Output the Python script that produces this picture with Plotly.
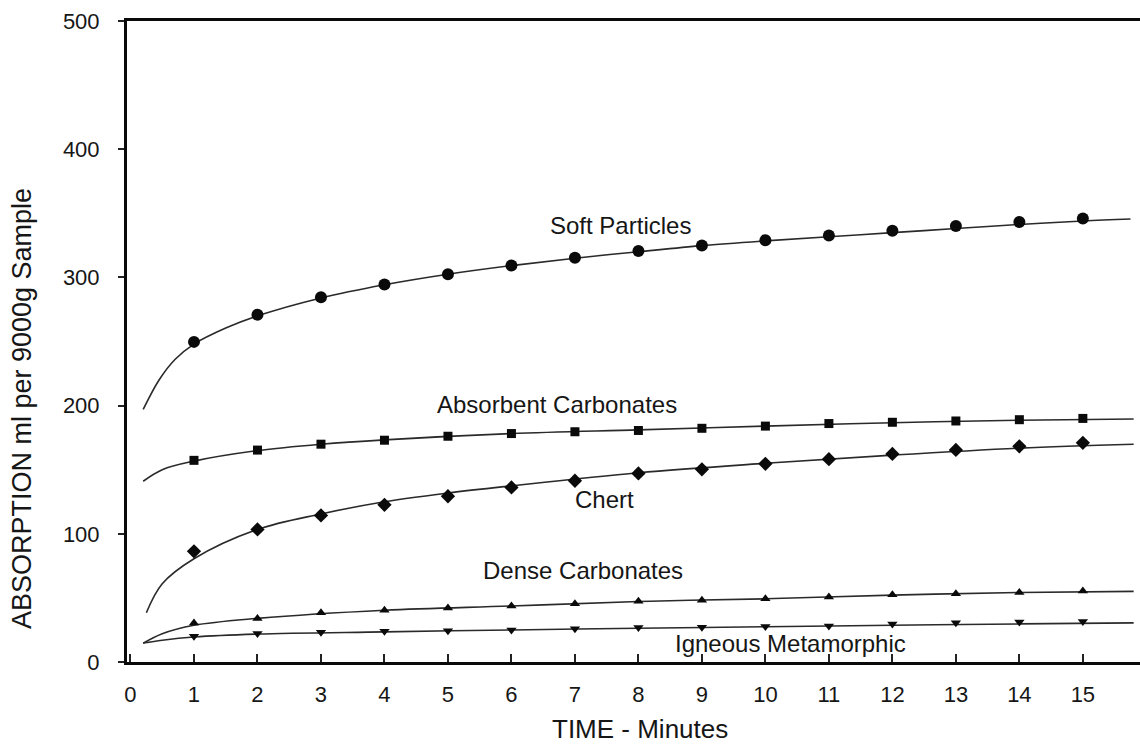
import plotly.graph_objects as go

# ---- data ----
minutes = [1, 2, 3, 4, 5, 6, 7, 8, 9, 10, 11, 12, 13, 14, 15]

soft_pts = [249.7, 270.9, 284.6, 294.4, 302.5, 309.2, 315.4, 320.6, 324.9, 329.0, 332.7, 336.4, 340.1, 343.2, 346.0]
absorb_pts = [157.3, 165.3, 169.9, 173.0, 176.1, 178.2, 179.6, 180.6, 182.3, 184.0, 186.0, 187.0, 188.0, 189.0, 190.0]
chert_pts = [86.3, 103.4, 114.3, 122.6, 129.3, 136.2, 141.4, 147.1, 150.3, 154.6, 158.2, 162.3, 165.4, 168.2, 171.0]
dense_pts = [30.4, 34.0, 38.4, 40.4, 42.2, 43.7, 45.5, 47.3, 48.2, 49.3, 50.7, 52.4, 53.3, 54.3, 55.3]
igneous_pts = [20.0, 22.3, 23.3, 24.0, 24.3, 25.0, 26.0, 27.0, 27.2, 27.7, 28.1, 29.7, 30.7, 31.2, 31.6]

# fitted curves
soft_curve_t = [0.2, 0.45, 0.7, 1, 1.5, 2, 3, 4, 5, 6, 7, 8, 9, 10, 11, 12, 13, 14, 15, 15.75]
soft_curve = [197, 220, 236, 248, 260.5, 270, 284, 294.3, 302.5, 309.2, 315, 320, 324.8, 328.5, 331.7, 334.9, 338.1, 341.3, 344, 345.5]

absorb_curve_t = [0.2, 0.5, 1, 2, 3, 4, 6, 8, 10, 12, 14, 15.8]
absorb_curve = [141, 150, 156.7, 164.9, 169.9, 173.3, 178.2, 181.1, 184, 186.6, 188.6, 189.5]

chert_curve_t = [0.25, 0.5, 1, 2, 3, 4, 5, 6, 8, 10, 12, 14, 15.8]
chert_curve = [38.4, 61.0, 80.5, 103.4, 115.5, 125.0, 131.8, 137.4, 147.6, 155, 161.4, 166.8, 169.8]

dense_curve_t = [0.2, 0.5, 1, 2, 4, 6, 8, 10, 12, 14, 15.8]
dense_curve = [14.6, 22.0, 28.6, 34.0, 40.4, 43.7, 47.2, 49.3, 52.2, 54.2, 55.1]

igneous_curve_t = [0.2, 0.5, 1, 2, 4, 6, 8, 10, 12, 14, 15.8]
igneous_curve = [14.8, 17.0, 19.5, 21.8, 23.5, 25.0, 26.3, 27.5, 28.7, 29.7, 30.5]

labels = ["Soft Particles", "Absorbent Carbonates", "Chert", "Dense Carbonates", "Igneous Metamorphic"]
label_t = [7.71, 6.72, 7.47, 7.13, 10.39]
label_y = [340.2, 200.9, 126.5, 71.2, 14.8]

x_ticks = list(range(0, 16))
y_ticks = [0, 100, 200, 300, 400, 500]

x_title = "TIME - Minutes"
y_title = "ABSORPTION ml per 9000g Sample"

# ---- figure ----
FONT = "Liberation Sans, Arial, Helvetica, sans-serif"
INK = "#161616"
fig = go.Figure()

series = [
    (soft_curve_t, soft_curve, soft_pts, "circle", 12),
    (absorb_curve_t, absorb_curve, absorb_pts, "square", 9),
    (chert_curve_t, chert_curve, chert_pts, "diamond", 11),
    (dense_curve_t, dense_curve, dense_pts, "triangle-up", 9),
    (igneous_curve_t, igneous_curve, igneous_pts, "triangle-down", 9),
]
for ct, cv, pts, sym, sz in series:
    fig.add_trace(go.Scatter(x=ct, y=cv, mode="lines",
                             line=dict(color="#2a2a2a", width=1.6, shape="spline", smoothing=1.0),
                             showlegend=False, hoverinfo="skip"))
    fig.add_trace(go.Scatter(x=minutes, y=pts, mode="markers",
                             marker=dict(symbol=sym, size=sz, color="#0a0a0a", line=dict(width=0)),
                             showlegend=False))

for txt, tx, ty in zip(labels, label_t, label_y):
    fig.add_annotation(x=tx, y=ty, text=txt, showarrow=False,
                       font=dict(family=FONT, size=24, color=INK),
                       xanchor="center", yanchor="middle")

# axis titles placed as in the reference
fig.add_annotation(xref="paper", yref="paper", x=0.5064, y=-0.1045, text=x_title,
                   showarrow=False, xanchor="center", yanchor="middle",
                   font=dict(family=FONT, size=26, color=INK))
fig.add_annotation(xref="paper", yref="paper", x=-0.1037, y=0.396, text=y_title,
                   showarrow=False, xanchor="center", yanchor="middle", textangle=-90,
                   font=dict(family=FONT, size=27, color=INK))

fig.update_layout(
    width=1140, height=745,
    margin=dict(l=127, r=0, t=21, b=83),
    paper_bgcolor="white", plot_bgcolor="white",
    font=dict(family=FONT, color=INK),
    showlegend=False,
)
fig.update_xaxes(
    range=[-0.055, 15.9], tickvals=x_ticks, ticktext=[str(v) for v in x_ticks],
    showgrid=False, zeroline=False,
    showline=True, linecolor="#0a0a0a", linewidth=3, mirror=True,
    ticks="inside", ticklen=8, tickwidth=1.5, tickcolor="#222",
    tickfont=dict(family=FONT, size=22, color=INK), ticklabelstandoff=11,
)
fig.update_yaxes(
    range=[0, 500], tickvals=y_ticks,
    showgrid=False, zeroline=False,
    showline=True, linecolor="#0a0a0a", linewidth=3, mirror=False,
    ticks="outside", ticklen=6, tickwidth=1.5, tickcolor="#222",
    tickfont=dict(family=FONT, size=22, color=INK), ticklabelstandoff=14,
)

fig.write_html("out.html")
